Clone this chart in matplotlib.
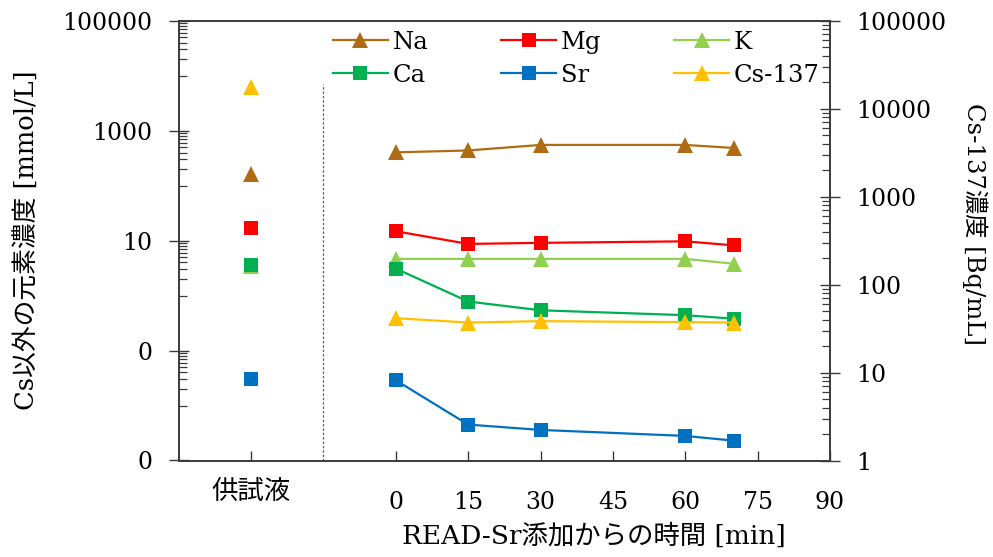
import numpy as np
import matplotlib
matplotlib.use('Agg')
import matplotlib.pyplot as plt
from matplotlib.ticker import FixedLocator, LogLocator, NullFormatter

plt.rcParams['font.family'] = ['DejaVu Serif', 'Noto Sans CJK JP']
plt.rcParams['font.size'] = 17

# time after READ-Sr addition [min]
t = [0, 15, 30, 60, 70]
x_feed = -30          # x position of the 供試液 column
x_sep = -15           # dashed separator

# element concentrations [mmol/L]
na = [403, 436, 550, 550, 484]
mg = [14.8, 8.7, 9.1, 9.7, 8.2]
k = [4.65, 4.65, 4.65, 4.65, 3.8]
ca = [3.1, 0.78, 0.54, 0.44, 0.38]
sr = [0.0288, 0.0045, 0.0036, 0.0028, 0.0023]
# Cs-137 [Bq/mL]
cs = [41.5, 37, 38.4, 37.4, 37]

# 供試液 (feed solution) values
feed_na, feed_mg, feed_k, feed_ca, feed_sr = 165, 16.8, 3.4, 3.66, 0.030
feed_cs = 17500

xticks = [-30, 0, 15, 30, 45, 60, 75, 90]
xlabels = ['供試液', '0', '15', '30', '45', '60', '75', '90']
# left axis is log base 100 (Excel style): minor ticks at k*10^(odd+1)
yticks_l = [1e-3, 1e-1, 1e1, 1e3, 1e5]
ylabels_l = ['0', '0', '10', '1000', '100000']
yminor_l = [m * 10.0**e for e in (-2, 0, 2, 4) for m in range(1, 10)]
yticks_r = [1, 10, 100, 1000, 10000, 100000]
ylabels_r = ['1', '10', '100', '1000', '10000', '100000']

c_na = '#B06C12'
c_mg = '#FF0000'
c_k = '#92D050'
c_ca = '#00B050'
c_sr = '#0070C0'
c_cs = '#FFC000'
spine_c = '#3a3a3a'

fig = plt.figure(figsize=(9.93, 5.57), dpi=100)
ax = fig.add_axes([178.7/993, 1-460.5/557, 651.3/993, 439.8/557])
ax2 = ax.twinx()

lw = 1.6
def series(a, x, y, fy, color, marker, label, ms):
    h, = a.plot(x, y, color=color, marker=marker, ms=ms, lw=lw, mew=0, label=label)
    a.plot([x_feed], [fy], color=color, marker=marker, ms=ms, mew=0, ls='none')
    return h

h_na = series(ax, t, na, feed_na, c_na, '^', 'Na', 11)
h_mg = series(ax, t, mg, feed_mg, c_mg, 's', 'Mg', 10)
h_k = series(ax, t, k, feed_k, c_k, '^', 'K', 11)
h_ca = series(ax, t, ca, feed_ca, c_ca, 's', 'Ca', 10)
h_sr = series(ax, t, sr, feed_sr, c_sr, 's', 'Sr', 10)
h_cs = series(ax2, t, cs, feed_cs, c_cs, '^', 'Cs-137', 11)

ax.axvline(x_sep, ymin=0, ymax=0.855, color='#606060', lw=0.9, ls=(0, (2, 1.5)))

ax.set_xlim(-45, 90)
ax.set_yscale('log')
ax.set_ylim(1e-3, 1e5)
ax2.set_yscale('log')
ax2.set_ylim(1, 1e5)

ax.xaxis.set_major_locator(FixedLocator(xticks))
ax.set_xticklabels(xlabels)
ax.tick_params(axis='x', direction='in', length=7, width=1, color=spine_c, pad=22)
ax.xaxis.get_major_ticks()[0].set_pad(13)
ax.get_xticklabels()[0].set_fontsize(19)

ax.yaxis.set_major_locator(FixedLocator(yticks_l))
ax.set_yticklabels(ylabels_l)
ax.yaxis.set_minor_locator(FixedLocator(yminor_l))
ax.yaxis.set_minor_formatter(NullFormatter())
ax.tick_params(axis='y', which='major', direction='inout', length=14, width=1, color=spine_c, pad=12)
ax.tick_params(axis='y', which='minor', direction='in', length=6, width=0.9, color=spine_c)

ax2.yaxis.set_major_locator(FixedLocator(yticks_r))
ax2.set_yticklabels(ylabels_r)
ax2.yaxis.set_minor_locator(LogLocator(base=10, subs=np.arange(2, 10), numticks=200))
ax2.yaxis.set_minor_formatter(NullFormatter())
ax2.tick_params(axis='y', which='major', direction='inout', length=14, width=1, color=spine_c, pad=12)
ax2.tick_params(axis='y', which='minor', direction='in', length=6, width=0.9, color=spine_c)

for a in (ax, ax2):
    for s in a.spines.values():
        s.set_color(spine_c)
        s.set_linewidth(1.2)

ax.set_ylabel('Cs以外の元素濃度 [mmol/L]', fontsize=18.5)
ax.yaxis.set_label_coords(-0.214, 0.5)
ax2.set_ylabel('Cs-137濃度 [Bq/mL]', fontsize=17.5, rotation=270, va='bottom')
ax2.yaxis.set_label_coords(1.203, 0.538)
ax.set_xlabel('READ-Sr添加からの時間 [min]', fontsize=19)
ax.xaxis.set_label_coords(0.638, -0.143)

ax2.legend([h_na, h_ca, h_mg, h_sr, h_k, h_cs], ['Na', 'Ca', 'Mg', 'Sr', 'K', 'Cs-137'],
           ncol=3, loc='upper left', bbox_to_anchor=(0.237, 0.977), frameon=False,
           borderpad=0, borderaxespad=0, handlelength=2.25, handletextpad=0.2,
           columnspacing=3.0, labelspacing=0.4, fontsize=17.5)

fig.savefig('out.png', dpi=100)
